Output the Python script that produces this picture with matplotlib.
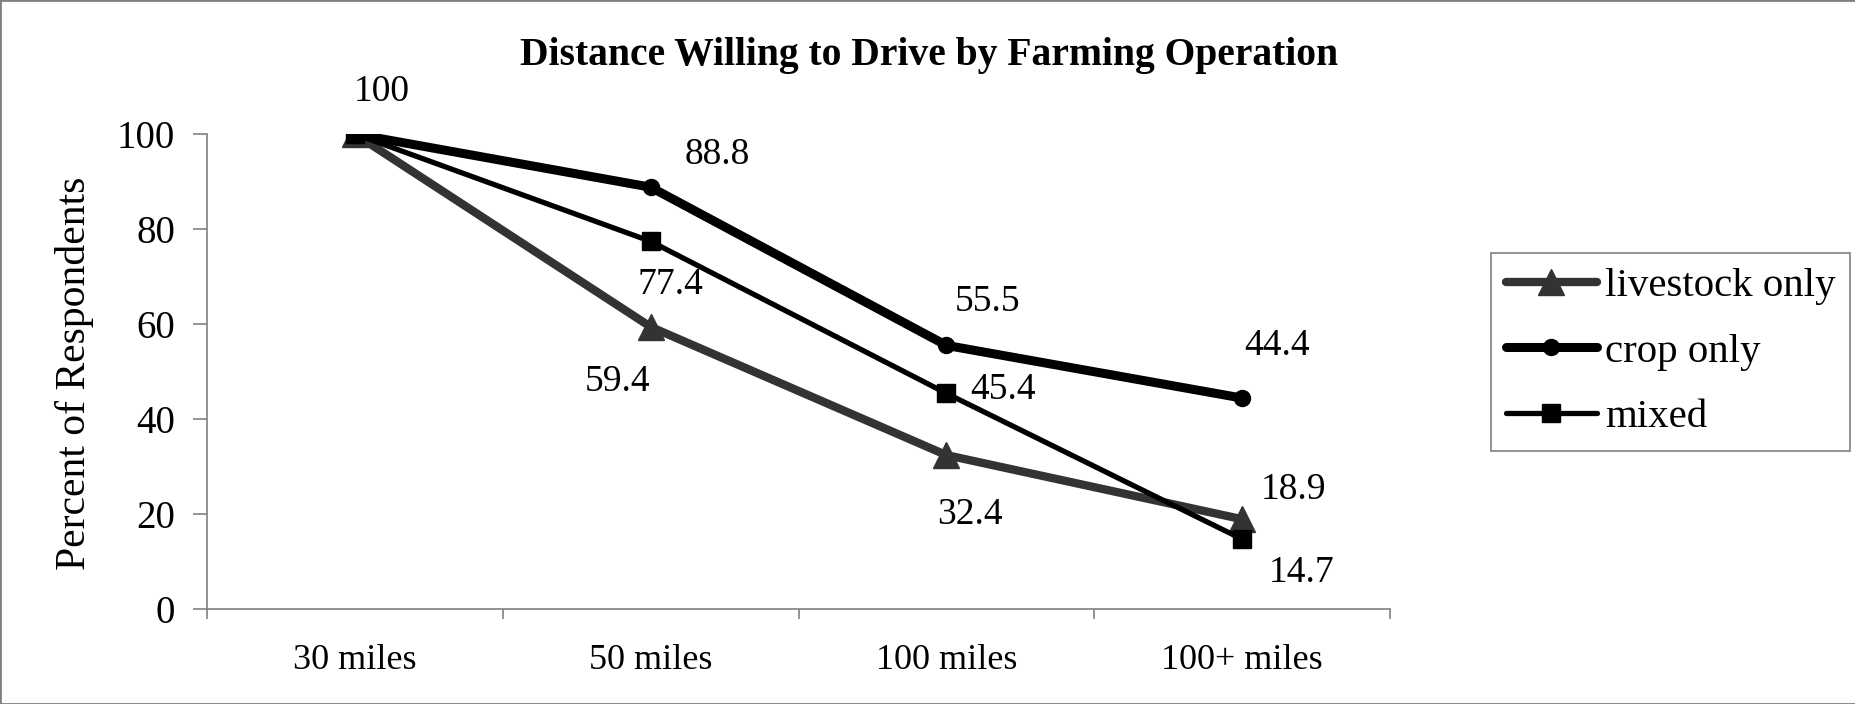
import matplotlib
matplotlib.use('Agg')
import matplotlib.pyplot as plt
from matplotlib.patches import Rectangle

plt.rcParams['font.family'] = ['Liberation Serif', 'DejaVu Serif']

categories = ['30 miles', '50 miles', '100 miles', '100+ miles']
livestock_only = [100, 59.4, 32.4, 18.9]
crop_only = [100, 88.8, 55.5, 44.4]
mixed = [100, 77.4, 45.4, 14.7]

# label offsets in pixels (dx, dy) from each point, one list per series
livestock_offsets = [None, (-33, -55), (24, -60), (51, 29)]
crop_offsets = [(27, 42), (67, 32), (41, 44), (35, 52)]
mixed_offsets = [None, (20, -43), (57, 4), (60, -34)]

W, H = 1856, 704
fig = plt.figure(figsize=(W / 100, H / 100), dpi=100)
ax = fig.add_axes([207 / W, 95 / H, 1183 / W, 475 / H])

x = range(len(categories))
series = [
    ('livestock only', livestock_only, livestock_offsets,
     dict(color='#333333', lw=6, marker='^', ms=19)),
    ('crop only', crop_only, crop_offsets,
     dict(color='black', lw=6.5, marker='o', ms=11.5)),
    ('mixed', mixed, mixed_offsets,
     dict(color='black', lw=3.8, marker='s', ms=13)),
]

for name, vals, offs, style in series:
    ax.plot(x, vals, label=name, solid_capstyle='round',
            solid_joinstyle='round', **style)
    for xi, v, off in zip(x, vals, offs):
        if off is None:
            continue
        ax.annotate('%g' % v, (xi, v), xytext=off, textcoords='offset pixels',
                    ha='center', va='center', fontsize=27)

ax.set_xlim(-0.5, len(categories) - 0.5)
ax.set_ylim(0, 100)
ax.set_yticks(range(0, 101, 20))
ax.set_xticks(list(x))
ax.set_xticklabels(categories)
ax.set_xticks([i - 0.5 for i in range(len(categories) + 1)], minor=True)

for side in ['top', 'right']:
    ax.spines[side].set_visible(False)
for side in ['left', 'bottom']:
    ax.spines[side].set_color('#808080')
    ax.spines[side].set_linewidth(1.2)

ax.tick_params(axis='x', which='major', length=0, pad=25, labelsize=26)
ax.tick_params(axis='x', which='minor', length=7.2, color='#808080', width=1.2)
ax.tick_params(axis='y', length=10, color='#808080', width=1.2, pad=13,
               labelsize=28)

fig.text(929 / W, 1 - 55 / H, 'Distance Willing to Drive by Farming Operation',
         ha='center', va='center', fontsize=28.5, fontweight='bold')
fig.text(75 / W, 1 - 373 / H, 'Percent of Respondents', rotation=90,
         ha='center', va='center', fontsize=30)

leg = fig.legend(loc='upper left', bbox_to_anchor=(1491 / W, 1 - 253 / H),
                 borderaxespad=0, fontsize=29.4, fancybox=False, framealpha=1,
                 edgecolor='#808080', borderpad=0.36, labelspacing=0.68,
                 handlelength=2.23, handletextpad=0.2)
leg.get_frame().set_linewidth(1.2)

fig.patches.append(Rectangle((0, 0), 1, 1, transform=fig.transFigure,
                             fill=False, edgecolor='#808080', lw=2))

plt.savefig('out.png', dpi=100)
